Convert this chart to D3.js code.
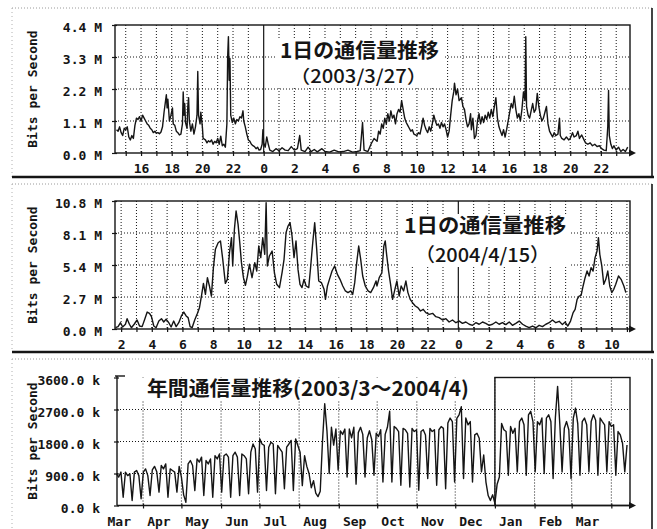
<!DOCTYPE html>
<html lang="ja">
<head>
<meta charset="utf-8">
<script src="https://cdn.jsdelivr.net/npm/d3@7"></script>
<style>
  body { margin: 0; background: #fff; }
  svg { display: block; }
</style>
</head>
<body>
<svg></svg>
<script>
// values

// panel 1: one day, 2003/3/27  -> [hour since 0:00 of previous day, Mbps]
const day1Title = "1日の通信量推移";
const day1Date = "（2003/3/27）";
const day1YTicks = [0, 1.1, 2.2, 3.3, 4.4];
const day1Traffic = [
  [14.4,0.8],[14.5,0.75],[14.6,0.9],[14.7,0.7],[14.8,0.6],[14.9,0.85],[15.0,0.8],[15.1,0.9],
  [15.2,0.55],[15.3,0.45],[15.4,0.6],[15.5,0.5],[15.6,0.95],[15.7,1.2],[15.8,1.15],[15.9,1.25],
  [16.0,1.1],[16.1,1.3],[16.2,1.2],[16.3,1.1],[16.4,1.0],[16.5,0.95],[16.6,0.85],[16.7,0.8],
  [16.8,0.7],[16.9,0.75],[17.0,0.68],[17.1,0.7],[17.2,0.66],[17.3,0.72],[17.4,0.9],[17.5,1.4],
  [17.6,1.8],[17.65,2.0],[17.7,1.55],[17.75,1.85],[17.85,1.1],[17.95,1.3],[18.05,1.55],[18.1,1.0],
  [18.2,0.95],[18.3,0.75],[18.4,0.7],[18.5,0.62],[18.6,0.65],[18.7,1.0],[18.75,2.1],[18.8,1.3],
  [18.85,1.7],[18.9,1.05],[19.0,0.85],[19.05,1.6],[19.1,1.9],[19.15,1.1],[19.25,0.75],[19.35,1.0],
  [19.45,0.65],[19.55,0.9],[19.65,1.3],[19.7,2.8],[19.75,1.3],[19.85,1.0],[19.9,1.4],[20.0,0.9],
  [20.05,0.5],[20.2,0.45],[20.3,0.35],[20.4,0.42],[20.5,0.38],[20.6,0.45],[20.7,0.3],[20.8,0.4],
  [20.9,0.35],[21.0,0.5],[21.1,0.3],[21.2,0.58],[21.3,0.25],[21.4,0.3],[21.5,0.2],[21.6,1.0],
  [21.65,3.3],[21.7,4.0],[21.75,2.5],[21.8,3.25],[21.85,1.3],[21.95,1.05],[22.05,1.2],[22.15,1.0],
  [22.25,1.15],[22.35,1.1],[22.45,1.25],[22.55,1.2],[22.65,1.45],[22.7,1.1],[22.8,0.9],[22.9,0.65],
  [23.0,0.45],[23.1,0.4],[23.2,0.3],[23.3,0.25],[23.4,0.22],[23.5,0.15],[23.6,0.2],[23.7,0.1],
  [23.8,0.12],[23.9,0.3],[23.95,0.8],[24.0,0.35],[24.1,0.2],[24.2,0.55],[24.3,0.3],[24.4,0.1],
  [24.6,0.05],[24.8,0.15],[25.0,0.08],[25.2,0.18],[25.4,0.1],[25.6,0.08],[25.8,0.22],[26.0,0.1],
  [26.2,0.15],[26.35,0.6],[26.45,0.1],[26.7,0.05],[26.9,0.2],[27.1,0.05],[27.3,0.12],[27.5,0.04],
  [27.8,0.15],[28.0,0.05],[28.3,0.03],[28.6,0.1],[28.9,0.04],[29.2,0.05],[29.5,0.1],[29.8,0.03],
  [30.1,0.05],[30.3,0.08],[30.45,1.05],[30.55,0.1],[30.8,0.05],[31.0,0.3],[31.2,0.5],[31.4,0.4],
  [31.5,0.75],[31.6,0.65],[31.7,1.0],[31.8,0.85],[31.9,1.2],[32.0,1.0],[32.1,1.35],[32.2,1.1],
  [32.3,1.45],[32.4,1.2],[32.5,1.3],[32.6,1.0],[32.7,1.35],[32.8,1.5],[32.9,1.4],[33.0,1.8],
  [33.1,1.5],[33.2,1.2],[33.3,1.05],[33.4,0.95],[33.5,0.85],[33.6,0.75],[33.7,0.8],[33.8,0.65],
  [34.0,0.6],[34.1,0.7],[34.2,0.65],[34.3,0.9],[34.4,1.2],[34.5,0.95],[34.6,0.8],[34.7,0.7],
  [34.8,0.9],[34.9,0.75],[35.0,1.0],[35.1,1.3],[35.2,1.1],[35.3,0.95],[35.4,1.0],[35.5,0.85],
  [35.6,1.05],[35.7,0.9],[35.8,1.0],[35.9,0.8],[36.0,0.55],[36.1,0.75],[36.2,1.3],[36.3,1.8],
  [36.4,2.1],[36.45,2.4],[36.55,2.0],[36.65,2.2],[36.75,1.8],[36.9,1.9],[37.0,1.6],[37.1,1.5],
  [37.2,1.15],[37.3,0.9],[37.4,1.0],[37.5,1.35],[37.55,0.8],[37.65,1.2],[37.75,0.5],[37.85,0.6],
  [37.95,1.1],[38.05,1.35],[38.15,1.0],[38.25,1.25],[38.35,1.05],[38.45,1.3],[38.55,1.15],[38.65,1.4],
  [38.75,1.2],[38.85,1.5],[38.95,1.25],[39.05,1.6],[39.15,1.9],[39.25,1.2],[39.35,0.9],[39.45,0.75],
  [39.55,0.6],[39.65,0.8],[39.75,0.55],[39.85,0.8],[39.95,1.1],[40.05,1.4],[40.15,1.7],[40.25,1.55],
  [40.35,1.95],[40.45,1.5],[40.55,1.2],[40.65,1.35],[40.75,1.1],[40.85,1.5],[40.95,2.1],[41.05,1.8],
  [41.1,4.0],[41.15,1.6],[41.25,1.3],[41.35,1.2],[41.45,1.45],[41.55,1.7],[41.65,1.4],[41.75,1.5],
  [41.85,2.05],[41.95,1.6],[42.05,1.3],[42.15,1.1],[42.25,1.2],[42.35,1.4],[42.45,1.6],[42.55,1.0],
  [42.65,0.75],[42.75,0.65],[42.85,0.55],[42.95,0.7],[43.05,0.6],[43.2,0.65],[43.3,1.2],[43.35,0.6],
  [43.45,0.5],[43.6,0.45],[43.75,0.55],[43.9,0.45],[44.0,0.5],[44.15,0.7],[44.25,0.55],[44.4,0.6],
  [44.5,0.75],[44.6,0.5],[44.75,0.62],[44.9,0.45],[45.0,0.35],[45.15,0.3],[45.3,0.35],[45.45,0.25],
  [45.6,0.3],[45.75,0.22],[45.9,0.25],[46.05,0.15],[46.2,0.1],[46.35,0.08],[46.45,0.9],[46.5,2.15],
  [46.55,0.6],[46.65,0.3],[46.75,0.15],[46.85,0.25],[47.0,0.1],[47.15,0.2],[47.3,0.05],[47.45,0.12],
  [47.6,0.05],[47.75,0.2]
];

// panel 2: one day, 2004/4/15
const day2Title = "1日の通信量推移";
const day2Date = "（2004/4/15）";
const day2YTicks = [0, 2.7, 5.4, 8.1, 10.8];
const day2Traffic = [
  [1.63,0.11],[1.8,0.2],[1.96,0.53],[2.1,0.17],[2.28,0.4],[2.39,0.87],[2.54,0.4],[2.67,0.11],
  [2.85,0.4],[3.04,0.76],[3.2,0.25],[3.37,0.2],[3.54,0.82],[3.7,1.43],[3.85,1.32],[3.98,1.04],
  [4.13,0.25],[4.28,0.11],[4.46,0.67],[4.63,0.87],[4.78,0.59],[4.93,0.82],[5.11,0.53],[5.26,0.17],
  [5.43,0.67],[5.59,0.2],[5.76,0.53],[5.93,1.1],[6.09,1.43],[6.24,1.1],[6.37,0.96],[6.5,0.2],
  [6.63,0.11],[6.8,0.76],[6.98,1.32],[7.11,1.8],[7.24,2.78],[7.37,3.85],[7.5,2.92],[7.63,4.33],
  [7.76,3.63],[7.89,2.78],[8.02,5.18],[8.15,6.72],[8.33,7.28],[8.48,7.43],[8.63,5.88],[8.8,3.85],
  [8.93,4.19],[9.07,6.44],[9.2,7.71],[9.28,5.32],[9.39,8.41],[9.5,9.96],[9.63,8.83],[9.74,7.28],
  [9.85,5.6],[9.98,4.33],[10.11,3.68],[10.24,4.47],[10.37,5.46],[10.54,4.33],[10.72,5.6],[10.85,4.89],
  [10.98,7.0],[11.11,6.02],[11.24,7.71],[11.37,6.3],[11.46,10.66],[11.54,5.32],[11.67,6.16],[11.85,6.58],
  [12.0,4.75],[12.15,3.77],[12.33,3.49],[12.5,4.75],[12.63,5.88],[12.76,8.13],[12.89,8.69],[13.02,8.97],
  [13.15,7.85],[13.28,6.02],[13.41,7.43],[13.54,5.03],[13.67,3.77],[13.8,3.49],[13.93,4.19],[14.07,3.63],
  [14.24,3.49],[14.37,5.32],[14.5,7.28],[14.63,8.97],[14.76,6.72],[14.89,4.05],[15.07,3.91],[15.24,3.35],
  [15.33,2.5],[15.46,3.63],[15.59,4.19],[15.76,4.89],[15.93,5.32],[16.11,4.61],[16.28,4.19],[16.46,3.63],
  [16.63,3.21],[16.8,3.07],[16.98,3.21],[17.11,2.92],[17.24,3.91],[17.37,5.6],[17.5,7.0],[17.63,5.88],
  [17.76,4.47],[17.93,3.63],[18.11,3.21],[18.28,3.07],[18.46,3.49],[18.63,4.05],[18.69,3.63],[18.84,4.33],
  [19.01,4.75],[19.14,7.0],[19.23,7.43],[19.32,6.3],[19.45,4.89],[19.58,3.77],[19.71,2.5],[19.84,3.21],
  [19.99,4.05],[20.14,2.78],[20.27,3.63],[20.43,3.21],[20.58,4.05],[20.71,3.07],[20.86,2.5],[21.01,2.22],
  [21.19,1.94],[21.36,1.8],[21.53,1.52],[21.71,1.66],[21.88,1.38],[22.1,1.24],[22.32,1.32],[22.53,1.04],
  [22.75,0.96],[22.97,0.76],[23.19,0.87],[23.4,0.59],[23.62,0.76],[23.84,0.53],[24.06,0.67],[24.27,0.48],
  [24.49,0.59],[24.71,0.4],[24.93,0.31],[25.14,0.53],[25.36,0.4],[25.58,0.59],[25.79,0.48],[26.01,0.31],
  [26.23,0.4],[26.45,0.59],[26.66,0.4],[26.88,0.53],[27.1,0.37],[27.32,0.59],[27.53,0.31],[27.75,0.48],
  [27.97,0.67],[28.19,0.4],[28.4,0.25],[28.62,0.11],[28.84,0.25],[29.06,0.11],[29.27,0.31],[29.49,0.2],
  [29.71,0.4],[29.93,0.53],[30.14,0.76],[30.36,0.53],[30.58,0.65],[30.79,0.37],[30.97,0.59],[31.14,0.25],
  [31.32,0.67],[31.49,1.38],[31.62,1.66],[31.75,2.5],[31.88,2.78],[32.01,2.84],[32.14,3.63],[32.27,4.33],
  [32.4,4.89],[32.53,4.47],[32.66,5.18],[32.79,4.89],[32.92,6.02],[33.05,6.58],[33.14,7.71],[33.23,6.3],
  [33.36,5.32],[33.49,3.77],[33.62,4.19],[33.75,4.89],[33.88,3.63],[34.01,3.07],[34.14,3.35],[34.27,3.77],
  [34.45,4.47],[34.62,4.19],[34.8,3.63],[34.93,3.07]
];

// panel 3: one year, kbps sampled every 1.75 days from 2003/3/11 (Tue, Thu, Fri, Sun each week)
const yearTitle = "年間通信量推移(2003/3〜2004/4)";
const yearYTicks = [0, 900, 1800, 2700, 3600];
const yearMonths = ["Mar","Apr","May","Jun","Jul","Aug","Sep","Oct","Nov","Dec","Jan","Feb","Mar"];
const yearStart = new Date(2003, 2, 11, 6);
const yearStepDays = 1.75;
const yearTraffic = [
  890,800,940,234, 940,840,890,140, 940,985,840,190, 940,1030,840,280,
  1000,1100,950,375, 1125,1030,1170,234, 1030,985,940,375, 1100,800,300,90,
  1170,1265,1125,420, 1310,1220,1360,280, 1265,1170,1310,234, 1400,1310,1450,375,
  1400,1450,1360,234, 1400,1500,1360,280, 1450,1400,1310,330, 1500,1730,1590,375,
  1875,1730,1690,420, 1640,1780,1730,330, 1690,1590,1500,470, 1640,1730,1830,420,
  1875,1690,1500,560, 1400,1100,900,500, 700,350,250,400, 1800,2860,2100,900,
  2200,1700,2150,1000, 2100,2000,2150,800, 2150,1900,2200,600, 2050,2200,2000,800,
  1900,2100,1850,850, 2030,1940,2130,660, 2000,2200,2650,660, 2220,2170,2080,570,
  2170,2130,2030,520, 2170,2080,2130,430, 2080,2130,1985,760, 2170,2080,2130,570,
  2130,2220,2170,470, 2320,2460,2360,660, 2450,2550,2780,760, 2460,2270,2360,660,
  1985,2030,1890,945, 1420,660,280,140, 300,60,600,800, 2310,2130,2080,850,
  2220,2030,2170,945, 2360,2460,2270,850, 2550,2650,2360,945, 2360,2270,2460,900,
  2460,2550,2360,760, 2460,3350,2270,945, 2170,2360,2130,760, 2450,2740,2300,850,
  2360,2460,2270,945, 2360,2550,2400,850, 2460,2360,2270,945, 2360,2220,2270,850,
  2080,1985,1750,945, 1700
];

// ---------------------------------------------------------------
const width = 657, height = 529;
const svg = d3.select("svg")
    .attr("width", width)
    .attr("height", height)
    .attr("viewBox", `0 0 ${width} ${height}`);

const ink = "#151515";
const mono = "'DejaVu Sans Mono', monospace";
const gothic = "'Noto Sans CJK JP', sans-serif";
const plotLeft = 115, plotRight = 630;

// faint scan frame around each panel
function frame(y0, y1, closed) {
    svg.append("line").attr("x1", 12).attr("x2", 652).attr("y1", y0).attr("y2", y0)
        .attr("stroke", "#9a9a9a").attr("stroke-dasharray", "1,2");
    svg.append("line").attr("x1", 12).attr("x2", 12).attr("y1", y0).attr("y2", y1)
        .attr("stroke", "#b0b0b0").attr("stroke-dasharray", "1,3");
    svg.append("line").attr("x1", 652).attr("x2", 652).attr("y1", y0).attr("y2", y1)
        .attr("stroke", ink).attr("stroke-width", 1.6);
    if (closed) {
        svg.append("line").attr("x1", 12).attr("x2", 654).attr("y1", y1).attr("y2", y1)
            .attr("stroke", ink).attr("stroke-width", 2.6);
    }
}
frame(8, 177, true);
frame(184, 352, true);
frame(359, 529, false);

function yTitle(cy) {
    svg.append("text")
        .attr("transform", `translate(36.5,${cy}) rotate(-90)`)
        .attr("text-anchor", "middle")
        .style("font", `bold 13px ${mono}`)
        .attr("fill", ink)
        .text("Bits per Second");
}

function styleAxis(g) {
    g.select(".domain").remove();
    g.selectAll(".tick line").attr("stroke", ink).attr("stroke-width", 1.2);
    g.selectAll(".tick text").attr("fill", ink).style("font", `bold 13px ${mono}`);
}

function titleBlock(lines, box) {
    svg.append("rect").attr("x", box[0]).attr("y", box[1])
        .attr("width", box[2] - box[0]).attr("height", box[3] - box[1]).attr("fill", "#fff");
    lines.forEach(l => {
        svg.append("text")
            .attr("x", l.cx).attr("y", l.y)
            .attr("text-anchor", "middle")
            .attr("textLength", l.len).attr("lengthAdjust", "spacingAndGlyphs")
            .style("font", `${l.weight} ${l.size}px ${gothic}`)
            .attr("fill", ink)
            .text(l.text);
    });
}

function arrow(x, y) {
    svg.append("path")
        .attr("d", `M${x - 2},${y - 3.5}L${x + 5},${y}L${x - 2},${y + 3.5}Z`)
        .attr("fill", ink);
}

// ---- daily charts ----
function dayChart(o) {
    const top = o.top, bottom = o.top + 128;
    const x = d3.scaleLinear().domain(o.hours).range([plotLeft, plotRight]);
    const y = d3.scaleLinear().domain([0, d3.max(o.yTicks)]).range([bottom, top]);
    const hourTicks = d3.range(Math.ceil(o.hours[0]), o.hours[1]);

    // dotted hour grid, solid at midnight
    svg.append("g").selectAll("line").data(hourTicks).join("line")
        .attr("x1", d => x(d)).attr("x2", d => x(d))
        .attr("y1", top).attr("y2", bottom)
        .attr("stroke", ink)
        .attr("stroke-width", d => d === 24 ? 1.2 : 1)
        .attr("stroke-dasharray", d => d === 24 ? null : "1,2");
    svg.append("g").selectAll("line").data(o.yTicks.slice(1, -1)).join("line")
        .attr("x1", plotLeft).attr("x2", plotRight)
        .attr("y1", d => y(d)).attr("y2", d => y(d))
        .attr("stroke", ink).attr("stroke-dasharray", "1,2");

    titleBlock(o.titles, o.titleBox);

    svg.append("rect").attr("x", plotLeft).attr("y", top)
        .attr("width", plotRight - plotLeft).attr("height", bottom - top)
        .attr("fill", "none").attr("stroke", ink).attr("stroke-width", 1.4);

    svg.append("g").attr("transform", `translate(0,${bottom})`)
        .call(d3.axisBottom(x).tickValues(hourTicks).tickSize(3).tickPadding(o.xPad)
            .tickFormat(d => d % 2 === 0 ? String(d % 24) : ""))
        .call(styleAxis)
        .call(g => g.selectAll(".tick line").attr("y1", -2));

    svg.append("g").attr("transform", `translate(${plotLeft},0)`)
        .call(d3.axisLeft(y).tickValues(o.yTicks).tickSize(3).tickPadding(10)
            .tickFormat(d => d3.format(".1f")(d) + " M"))
        .call(styleAxis)
        .call(g => g.selectAll(".tick line").attr("x1", 2))
        .call(g => g.selectAll(".tick text").attr("dy", "0.5em"));

    yTitle((top + bottom) / 2);
    arrow(plotRight + 1, bottom);

    svg.append("path")
        .datum(o.data)
        .attr("fill", "none")
        .attr("stroke", ink)
        .attr("stroke-width", 1.4)
        .attr("stroke-linejoin", "round")
        .attr("d", d3.line().x(d => x(d[0])).y(d => y(d[1])));
}

dayChart({
    top: 25, hours: [14.3, 47.9], yTicks: day1YTicks, data: day1Traffic, xPad: 8,
    titleBox: [276, 39, 443, 88],
    titles: [
        { text: day1Title, cx: 359.5, y: 57.5, len: 159, size: 20, weight: 700 },
        { text: day1Date, cx: 358.5, y: 82.5, len: 137, size: 18, weight: 500 }
    ]
});

dayChart({
    top: 201, hours: [1.6, 35.2], yTicks: day2YTicks, data: day2Traffic, xPad: 7.5,
    titleBox: [400, 214, 570, 267],
    titles: [
        { text: day2Title, cx: 485, y: 233, len: 162, size: 20, weight: 700 },
        { text: day2Date, cx: 482.5, y: 262, len: 135, size: 19, weight: 500 }
    ]
});

// ---- yearly chart ----
(function () {
    const left = 117, top = 377.5, bottom = 505.5;
    const x = d3.scaleTime()
        .domain([new Date(2003, 2, 11, 16), new Date(2004, 3, 15, 14)])
        .range([left, plotRight]);
    const y = d3.scaleLinear().domain([0, d3.max(yearYTicks)]).range([bottom, top]);
    const monthStarts = d3.timeMonth.range(new Date(2003, 3, 1), new Date(2004, 3, 2));
    const labelDates = yearMonths.map((m, i) => d3.timeDay.offset(new Date(2003, 2 + i, 1), 12));
    const series = yearTraffic.map((v, i) =>
        [new Date(+yearStart + i * yearStepDays * 864e5), v]);

    svg.append("g").selectAll("line").data(monthStarts).join("line")
        .attr("x1", d => x(d)).attr("x2", d => x(d))
        .attr("y1", top).attr("y2", bottom)
        .attr("stroke", ink).attr("stroke-dasharray", "1,2");
    svg.append("g").selectAll("line").data(yearYTicks.slice(1, -1)).join("line")
        .attr("x1", left).attr("x2", plotRight)
        .attr("y1", d => y(d)).attr("y2", d => y(d))
        .attr("stroke", ink).attr("stroke-dasharray", "1,2");

    titleBlock([{ text: yearTitle, cx: 308, y: 396, len: 322, size: 20, weight: 700 }],
        [140, 378, 474, 401]);

    // box drawn around the 2004 part
    const jan = x(new Date(2004, 0, 1));
    svg.append("rect").attr("x", jan).attr("y", top)
        .attr("width", plotRight - jan).attr("height", bottom - top)
        .attr("fill", "none").attr("stroke", ink).attr("stroke-width", 1.4);

    // axes
    svg.append("line").attr("x1", left).attr("x2", plotRight).attr("y1", bottom).attr("y2", bottom)
        .attr("stroke", ink).attr("stroke-width", 1.4);
    svg.append("line").attr("x1", left).attr("x2", left).attr("y1", top - 1.5).attr("y2", bottom)
        .attr("stroke", ink).attr("stroke-width", 1.4);
    svg.append("line").attr("x1", left - 2).attr("x2", left + 8).attr("y1", top - 1.5).attr("y2", top - 1.5)
        .attr("stroke", ink).attr("stroke-width", 1.4);

    svg.append("g").attr("transform", `translate(0,${bottom})`)
        .call(d3.axisBottom(x).tickValues(monthStarts).tickSize(3).tickFormat(""))
        .call(styleAxis)
        .call(g => g.selectAll(".tick line").attr("y1", -2));
    svg.append("g").attr("transform", `translate(0,${bottom})`)
        .call(d3.axisBottom(x).tickValues(labelDates).tickSize(0).tickPadding(11)
            .tickFormat((d, i) => yearMonths[i]))
        .call(styleAxis);

    svg.append("g").attr("transform", `translate(${left},0)`)
        .call(d3.axisLeft(y).tickValues(yearYTicks).tickSize(3).tickPadding(14)
            .tickFormat(d => d3.format(".1f")(d) + " k"))
        .call(styleAxis)
        .call(g => g.selectAll(".tick line").attr("x1", 2))
        .call(g => g.selectAll(".tick text").attr("dy", "0.5em"));

    yTitle(441);
    arrow(plotRight + 1, bottom);

    svg.append("path")
        .datum(series)
        .attr("fill", "none")
        .attr("stroke", ink)
        .attr("stroke-width", 1.4)
        .attr("stroke-linejoin", "round")
        .attr("d", d3.line().x(d => x(d[0])).y(d => y(d[1])));
})();
</script>
</body>
</html>
